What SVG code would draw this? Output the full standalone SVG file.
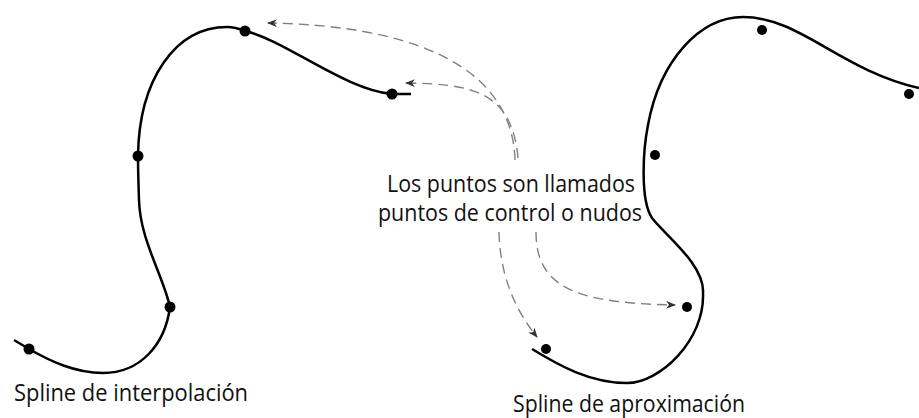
<svg xmlns="http://www.w3.org/2000/svg" width="919" height="418" viewBox="0 0 919 418">
<style>
.curve{fill:none;stroke:#000;stroke-width:2.5;stroke-linecap:butt}
.dot{fill:#000}
.dash{fill:none;stroke:#808080;stroke-width:1.4;stroke-dasharray:10 6}
.lbl{font-family:"Open Sans",Lato,"Liberation Sans",sans-serif;font-size:23.5px;fill:#111}
</style>
<defs>
<marker id="ah" viewBox="0 0 10 8" refX="9" refY="4" markerWidth="10" markerHeight="8" markerUnits="userSpaceOnUse" orient="auto">
<path d="M0,0 L10,4 L0,8 L3,4 z" fill="#333"/>
</marker>
</defs>
<rect width="919" height="418" fill="#fff"/>
<g id="interpolation">
<path class="curve" d="M14,340 L29,349 C50,361 75,373 103,373 C140,373 165,345 170,307 C163,275 140,240 139,200 C138.5,185 138,170 138,156 C139,80 175,27 227,27 C235,27 240,29 245,31 C285,40 345,90 392,94 L411,94"/>
<circle class="dot" cx="29" cy="349" r="5.5"/>
<circle class="dot" cx="170" cy="307" r="5.5"/>
<circle class="dot" cx="138" cy="156" r="5.5"/>
<circle class="dot" cx="245" cy="31" r="5.5"/>
<circle class="dot" cx="392" cy="94" r="5.5"/>
<text class="lbl" x="14" y="401" textLength="234" lengthAdjust="spacingAndGlyphs">Spline de interpolación</text>
</g>
<g id="approximation">
<path class="curve" d="M532,349 C560,366 590,383 627,383 C660,383 705,340 703,293 C705,265 665,235 652,218 C640,200 643,150 648,125 C660,60 700,17 743,17 C800,17 840,70 919,88"/>
<circle class="dot" cx="546" cy="349" r="5"/>
<circle class="dot" cx="687" cy="307" r="5"/>
<circle class="dot" cx="655" cy="155" r="5"/>
<circle class="dot" cx="762" cy="30" r="5"/>
<circle class="dot" cx="909" cy="94" r="5"/>
<text class="lbl" x="513" y="412" textLength="232" lengthAdjust="spacingAndGlyphs">Spline de aproximación</text>
</g>
<g id="note">
<text class="lbl" x="387" y="192" textLength="248" lengthAdjust="spacingAndGlyphs">Los puntos son llamados</text>
<text class="lbl" x="378" y="221" textLength="264" lengthAdjust="spacingAndGlyphs">puntos de control o nudos</text>
</g>
<g id="connectors">
<path class="dash" d="M515,160 C512,60 400,25 268,23" marker-end="url(#ah)"/>
<path class="dash" d="M518,158 C512,90 470,84 406,83" marker-end="url(#ah)"/>
<path class="dash" d="M499,232 C500,275 515,310 537,337" marker-end="url(#ah)"/>
<path class="dash" d="M536,232 C536,290 580,303 675,305" marker-end="url(#ah)"/>
</g>
</svg>
